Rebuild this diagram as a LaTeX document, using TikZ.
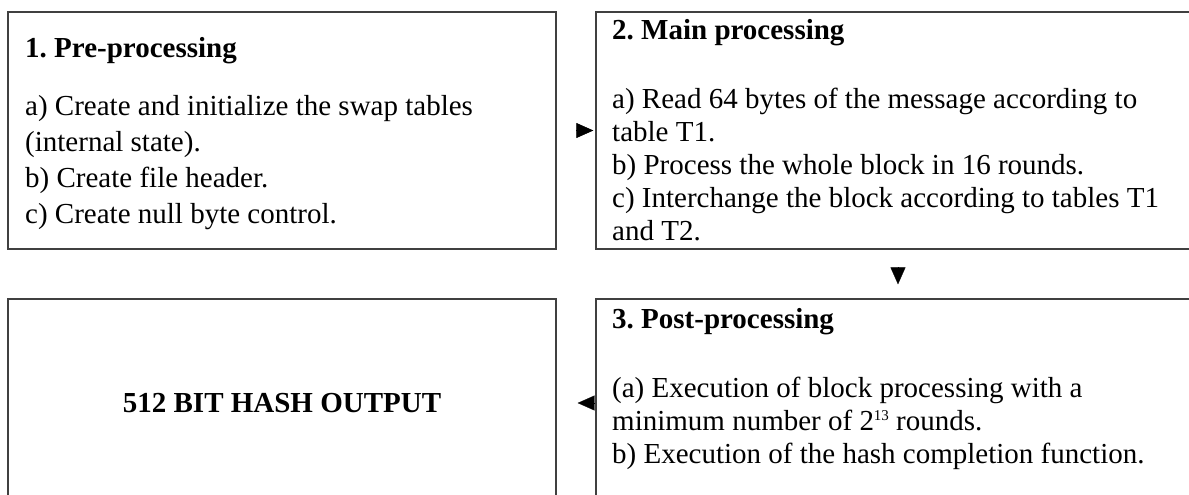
\documentclass[tikz,border=0pt]{standalone}
\usepackage{fontspec}
\setmainfont{Liberation Serif}
\usetikzlibrary{arrows.meta}
\frenchspacing

\tikzset{
  frame/.style={draw=black!75, line width=1.3pt, inner sep=0pt},
  txt/.style={anchor=base west, inner sep=0pt, font=\fontsize{29}{33}\selectfont},
  head/.style={txt, font=\fontsize{29}{33}\selectfont\bfseries},
  tipflow/.style={-{Triangle[length=17pt,width=15pt]}, line cap=butt},
}
\newcommand{\expo}[1]{\raisebox{10pt}{\fontsize{15}{15}\selectfont #1}}

\begin{document}
\begin{tikzpicture}[x=1pt, y=-1pt]
\useasboundingbox (0,0) rectangle (1189,495);
\clip (0,0) rectangle (1189,495);

%the four stage boxes
\node[frame, minimum width=548pt, minimum height=237pt] (pre) at (282,130.5) {};
\node[frame, minimum width=604pt, minimum height=237pt] (main) at (898,130.5) {};
\node[frame, minimum width=604pt, minimum height=208pt] (post) at (898,403) {};
\node[frame, minimum width=548pt, minimum height=208pt,
      font=\fontsize{29}{33}\selectfont\bfseries] (hashout) at (282,403) {512 BIT HASH OUTPUT};

%stage 1
\node[head] (prehead) at (25,58) {1. Pre-processing};
\node[txt] (prea) at (25,115) {a) Create and initialize the swap tables};
\node[txt] (preb) at (25,151) {(internal state).};
\node[txt] (prec) at (25,187) {b) Create file header.};
\node[txt] (pred) at (25,223) {c) Create null byte control.};

%stage 2
\node[head] (mainhead) at (612,40) {2. Main processing};
\node[txt] (maina) at (612,108) {a) Read 64 bytes of the message according to};
\node[txt] (mainb) at (612,141) {table T1.};
\node[txt] (mainc) at (612,174) {b) Process the whole block in 16 rounds.};
\node[txt] (maind) at (612,207) {c) Interchange the block according to tables T1};
\node[txt] (maine) at (612,240) {and T2.};

%stage 3
\node[head] (posthead) at (612,328) {3. Post-processing};
\node[txt] (posta) at (612,397) {(a) Execution of block processing with a};
\node[txt] (postb) at (612,430) {minimum number of 2\expo{13} rounds.};
\node[txt] (postc) at (612,463) {b) Execution of the hash completion function.};

%only the tips are shown
\draw[tipflow, shorten <=21pt, shorten >=2pt] (pre.east) -- (main.west);
\draw[tipflow, shorten <=19pt, shorten >=14pt] (main.south) -- (post.north);
\draw[tipflow, shorten <=3pt, shorten >=21pt] (post.west) -- (hashout.east);

\end{tikzpicture}
\end{document}
